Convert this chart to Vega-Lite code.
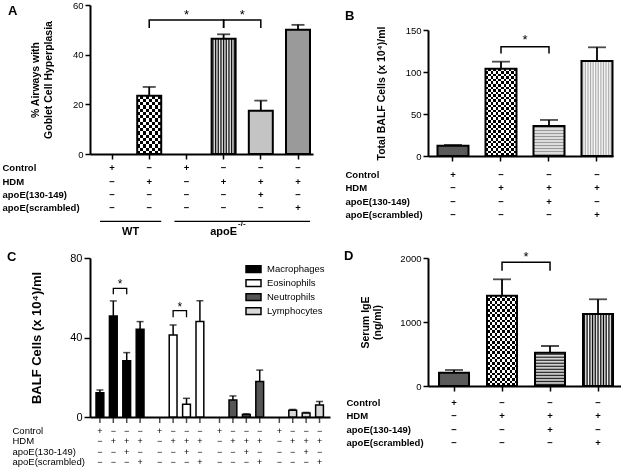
{
"$schema": "https://vega.github.io/schema/vega-lite/v6.json",
"background": "white",
"padding": {"left": 2, "top": 0, "right": 0, "bottom": 0},
"config": {
  "font": "Liberation Sans",
  "view": {"stroke": null},
  "axis": {"labelFont": "Liberation Sans", "titleFont": "Liberation Sans", "labelColor": "black", "titleColor": "black", "domainColor": "black", "tickColor": "black", "domainWidth": 2, "tickWidth": 1.5, "tickSize": 5, "labelPadding": 2, "grid": false},
  "text": {"font": "Liberation Sans"},
  "legend": {"labelFont": "Liberation Sans"},
  "title": {"font": "Liberation Sans"}
},
"resolve": {"scale": {"fill": "independent", "xOffset": "independent"}, "legend": {"fill": "independent"}},
"datasets": {
  "aBars": [
    {"cond": "WT HDM", "mean": 23.5, "upper": 27},
    {"cond": "KO HDM", "mean": 46.4, "upper": 48.2},
    {"cond": "KO HDM+pep", "mean": 17.4, "upper": 21.5},
    {"cond": "KO HDM+scr", "mean": 50, "upper": 52}
  ],
  "aTable": [
    {"cond": "WT Control", "Control": "+", "HDM": "−", "apoE(130-149)": "−", "apoE(scrambled)": "−"},
    {"cond": "WT HDM", "Control": "−", "HDM": "+", "apoE(130-149)": "−", "apoE(scrambled)": "−"},
    {"cond": "KO Control", "Control": "+", "HDM": "−", "apoE(130-149)": "−", "apoE(scrambled)": "−"},
    {"cond": "KO HDM", "Control": "−", "HDM": "+", "apoE(130-149)": "−", "apoE(scrambled)": "−"},
    {"cond": "KO HDM+pep", "Control": "−", "HDM": "+", "apoE(130-149)": "+", "apoE(scrambled)": "−"},
    {"cond": "KO HDM+scr", "Control": "−", "HDM": "+", "apoE(130-149)": "−", "apoE(scrambled)": "+"}
  ],
  "aGroups": [
    {"first": "WT Control", "last": "WT HDM", "row": "line"},
    {"first": "KO Control", "last": "KO HDM+scr", "row": "line"}
  ],
  "aLabels": [
    {"label": "WT", "cond": "WT Control", "row": "group"},
    {"label": "apoE", "cond": "KO HDM", "row": "group"},
    {"label": "-/-", "cond": "KO HDM", "row": "group"}
  ],
  "aBrackets": [
    {"id": "a1", "cond": "WT HDM", "v": 50.7, "o": 1},
    {"id": "a1", "cond": "WT HDM", "v": 54, "o": 2},
    {"id": "a1", "cond": "KO HDM", "v": 54, "o": 3},
    {"id": "a1", "cond": "KO HDM", "v": 50.7, "o": 4},
    {"id": "a2", "cond": "KO HDM", "v": 50.7, "o": 1},
    {"id": "a2", "cond": "KO HDM", "v": 54, "o": 2},
    {"id": "a2", "cond": "KO HDM+pep", "v": 54, "o": 3},
    {"id": "a2", "cond": "KO HDM+pep", "v": 50.7, "o": 4}
  ],
  "aStars": [
    {"k": "s1", "cond": "KO Control", "v": 54},
    {"k": "s2", "cond": "KO HDM", "v": 54}
  ],
  "table4": [
    {"cond": "Control", "Control": "+", "HDM": "−", "apoE(130-149)": "−", "apoE(scrambled)": "−", "cells": ["Macrophages", "Eosinophils", "Neutrophils", "Lymphocytes"]},
    {"cond": "HDM", "Control": "−", "HDM": "+", "apoE(130-149)": "−", "apoE(scrambled)": "−", "cells": ["Macrophages", "Eosinophils", "Neutrophils", "Lymphocytes"]},
    {"cond": "HDM+pep", "Control": "−", "HDM": "+", "apoE(130-149)": "+", "apoE(scrambled)": "−", "cells": ["Macrophages", "Eosinophils", "Neutrophils", "Lymphocytes"]},
    {"cond": "HDM+scr", "Control": "−", "HDM": "+", "apoE(130-149)": "−", "apoE(scrambled)": "+", "cells": ["Macrophages", "Eosinophils", "Neutrophils", "Lymphocytes"]}
  ],
  "bBars": [
    {"cond": "Control", "mean": 12.3, "upper": 13.2},
    {"cond": "HDM", "mean": 104, "upper": 112.3},
    {"cond": "HDM+pep", "mean": 35.7, "upper": 42.9},
    {"cond": "HDM+scr", "mean": 113, "upper": 129.4}
  ],
  "bBrackets": [
    {"id": "b1", "cond": "HDM", "v": 122, "o": 1},
    {"id": "b1", "cond": "HDM", "v": 130, "o": 2},
    {"id": "b1", "cond": "HDM+pep", "v": 130, "o": 3},
    {"id": "b1", "cond": "HDM+pep", "v": 122, "o": 4}
  ],
  "bStars": [{"cond": "HDM", "v": 130}],
  "cBars": [
    {"cell": "Macrophages", "cond": "Control", "mean": 12.2, "upper": 13.6},
    {"cell": "Macrophages", "cond": "HDM", "mean": 50.8, "upper": 58.4},
    {"cell": "Macrophages", "cond": "HDM+pep", "mean": 28.3, "upper": 32.4},
    {"cell": "Macrophages", "cond": "HDM+scr", "mean": 44.1, "upper": 48},
    {"cell": "Eosinophils", "cond": "HDM", "mean": 41.3, "upper": 46.3},
    {"cell": "Eosinophils", "cond": "HDM+pep", "mean": 6.4, "upper": 9.4},
    {"cell": "Eosinophils", "cond": "HDM+scr", "mean": 48, "upper": 58.5},
    {"cell": "Neutrophils", "cond": "HDM", "mean": 8.6, "upper": 10.6},
    {"cell": "Neutrophils", "cond": "HDM+pep", "mean": 1.3, "upper": 1.6},
    {"cell": "Neutrophils", "cond": "HDM+scr", "mean": 17.9, "upper": 23.6},
    {"cell": "Lymphocytes", "cond": "HDM", "mean": 3.4, "upper": 3.8},
    {"cell": "Lymphocytes", "cond": "HDM+pep", "mean": 2, "upper": 2.3},
    {"cell": "Lymphocytes", "cond": "HDM+scr", "mean": 6.1, "upper": 7.8}
  ],
  "cBrackets": [
    {"id": "m", "cell": "Macrophages", "cond": "HDM", "v": 61.7, "o": 1},
    {"id": "m", "cell": "Macrophages", "cond": "HDM", "v": 64.7, "o": 2},
    {"id": "m", "cell": "Macrophages", "cond": "HDM+pep", "v": 64.7, "o": 3},
    {"id": "m", "cell": "Macrophages", "cond": "HDM+pep", "v": 61.7, "o": 4},
    {"id": "e", "cell": "Eosinophils", "cond": "HDM", "v": 50.2, "o": 1},
    {"id": "e", "cell": "Eosinophils", "cond": "HDM", "v": 53.5, "o": 2},
    {"id": "e", "cell": "Eosinophils", "cond": "HDM+pep", "v": 53.5, "o": 3},
    {"id": "e", "cell": "Eosinophils", "cond": "HDM+pep", "v": 50.2, "o": 4}
  ],
  "cStars": [
    {"cell": "Macrophages", "cond": "HDM", "v": 64.7},
    {"cell": "Eosinophils", "cond": "HDM", "v": 53.5}
  ],
  "dBars": [
    {"cond": "Control", "mean": 208, "upper": 250},
    {"cond": "HDM", "mean": 1411, "upper": 1667},
    {"cond": "HDM+pep", "mean": 520, "upper": 625},
    {"cond": "HDM+scr", "mean": 1125, "upper": 1355}
  ],
  "dBrackets": [
    {"id": "d1", "cond": "HDM", "v": 1802, "o": 1},
    {"id": "d1", "cond": "HDM", "v": 1933, "o": 2},
    {"id": "d1", "cond": "HDM+pep", "v": 1933, "o": 3},
    {"id": "d1", "cond": "HDM+pep", "v": 1802, "o": 4}
  ],
  "dStars": [{"cond": "HDM", "v": 1933}]
},
"bounds": "flush",
"columns": 2,
"spacing": {"row": 102, "column": 98},
"concat": [
  {
    "width": 223, "height": 149,
    "title": {"text": "A", "anchor": "start", "frame": "group", "dx": -82, "dy": 17.5, "offset": 0, "fontSize": 13, "fontWeight": "bold", "color": "black"},
    "encoding": {"x": {"field": "cond", "type": "nominal", "scale": {"type": "band", "domain": ["WT Control", "WT HDM", "KO Control", "KO HDM", "KO HDM+pep", "KO HDM+scr"], "paddingInner": 0.355, "paddingOuter": 0.175, "align": 0.77}, "axis": {"labels": false, "title": null, "ticks": true, "tickSize": 5}}},
    "resolve": {"scale": {"y": "independent"}, "axis": {"y": "independent"}},
    "layer": [
      {"layer": [
        {"data": {"name": "aBars"}, "transform": [{"filter": "datum.cond === 'WT HDM'"}], "mark": {"type": "bar", "strokeWidth": 0,
          "fill": {"gradient": "linear", "x1": 0, "y1": 0, "x2": 1, "y2": 0, "stops": [
            {"offset": 0, "color": "black"}, {"offset": 0.125, "color": "black"}, {"offset": 0.125, "color": "white"}, {"offset": 0.25, "color": "white"}, {"offset": 0.25, "color": "black"}, {"offset": 0.375, "color": "black"}, {"offset": 0.375, "color": "white"}, {"offset": 0.5, "color": "white"}, {"offset": 0.5, "color": "black"}, {"offset": 0.625, "color": "black"}, {"offset": 0.625, "color": "white"}, {"offset": 0.75, "color": "white"}, {"offset": 0.75, "color": "black"}, {"offset": 0.875, "color": "black"}, {"offset": 0.875, "color": "white"}, {"offset": 1, "color": "white"}]}},
         "encoding": {"y": {"field": "mean", "type": "quantitative", "scale": {"domain": [0, 60], "nice": false}, "axis": {"values": [0, 10, 20, 30, 40, 50, 60], "title": ["% Airways with", "Goblet Cell Hyperplasia"], "titleFontSize": 10.5, "titleFontWeight": "bold", "titleLineHeight": 13, "titlePadding": 19, "labelFontSize": 9.5}}}},
        {"data": {"name": "aBars"}, "transform": [{"filter": "datum.cond === 'WT HDM'"}], "mark": {"type": "bar", "strokeWidth": 0, "blend": "difference",
          "fill": {"gradient": "linear", "x1": 0, "y1": 0, "x2": 0, "y2": 1, "stops": [
            {"offset": 0, "color": "white"}, {"offset": 0.0556, "color": "white"}, {"offset": 0.0556, "color": "black"}, {"offset": 0.1111, "color": "black"}, {"offset": 0.1111, "color": "white"}, {"offset": 0.1667, "color": "white"}, {"offset": 0.1667, "color": "black"}, {"offset": 0.2222, "color": "black"}, {"offset": 0.2222, "color": "white"}, {"offset": 0.2778, "color": "white"}, {"offset": 0.2778, "color": "black"}, {"offset": 0.3333, "color": "black"}, {"offset": 0.3333, "color": "white"}, {"offset": 0.3889, "color": "white"}, {"offset": 0.3889, "color": "black"}, {"offset": 0.4444, "color": "black"}, {"offset": 0.4444, "color": "white"}, {"offset": 0.5, "color": "white"}, {"offset": 0.5, "color": "black"}, {"offset": 0.5556, "color": "black"}, {"offset": 0.5556, "color": "white"}, {"offset": 0.6111, "color": "white"}, {"offset": 0.6111, "color": "black"}, {"offset": 0.6667, "color": "black"}, {"offset": 0.6667, "color": "white"}, {"offset": 0.7222, "color": "white"}, {"offset": 0.7222, "color": "black"}, {"offset": 0.7778, "color": "black"}, {"offset": 0.7778, "color": "white"}, {"offset": 0.8333, "color": "white"}, {"offset": 0.8333, "color": "black"}, {"offset": 0.8889, "color": "black"}, {"offset": 0.8889, "color": "white"}, {"offset": 0.9444, "color": "white"}, {"offset": 0.9444, "color": "black"}, {"offset": 1, "color": "black"}]}},
         "encoding": {"y": {"field": "mean", "type": "quantitative"}}},
        {"data": {"name": "aBars"}, "transform": [{"filter": "datum.cond === 'WT HDM'"}], "mark": {"type": "bar", "fill": "transparent", "stroke": "black", "strokeWidth": 2}, "encoding": {"y": {"field": "mean", "type": "quantitative"}}},
        {"data": {"name": "aBars"}, "transform": [{"filter": "datum.cond === 'KO HDM'"}], "mark": {"type": "bar", "stroke": "black", "strokeWidth": 2,
          "fill": {"gradient": "linear", "x1": 0, "y1": 0, "x2": 1, "y2": 0, "stops": [
            {"offset": 0, "color": "white"}, {"offset": 0.0556, "color": "black"}, {"offset": 0.1111, "color": "white"}, {"offset": 0.1667, "color": "black"}, {"offset": 0.2222, "color": "white"}, {"offset": 0.2778, "color": "black"}, {"offset": 0.3333, "color": "white"}, {"offset": 0.3889, "color": "black"}, {"offset": 0.4444, "color": "white"}, {"offset": 0.5, "color": "black"}, {"offset": 0.5556, "color": "white"}, {"offset": 0.6111, "color": "black"}, {"offset": 0.6667, "color": "white"}, {"offset": 0.7222, "color": "black"}, {"offset": 0.7778, "color": "white"}, {"offset": 0.8333, "color": "black"}, {"offset": 0.8889, "color": "white"}, {"offset": 0.9444, "color": "black"}, {"offset": 1, "color": "white"}]}},
         "encoding": {"y": {"field": "mean", "type": "quantitative"}}},
        {"data": {"name": "aBars"}, "transform": [{"filter": "datum.cond === 'KO HDM+pep'"}], "mark": {"type": "bar", "fill": "#c4c4c4", "stroke": "black", "strokeWidth": 2}, "encoding": {"y": {"field": "mean", "type": "quantitative"}}},
        {"data": {"name": "aBars"}, "transform": [{"filter": "datum.cond === 'KO HDM+scr'"}], "mark": {"type": "bar", "fill": "#9a9a9a", "stroke": "black", "strokeWidth": 2}, "encoding": {"y": {"field": "mean", "type": "quantitative"}}},
        {"data": {"name": "aBars"}, "mark": {"type": "rule", "strokeWidth": 1.8, "color": "black"}, "encoding": {"y": {"field": "mean", "type": "quantitative"}, "y2": {"field": "upper"}}},
        {"data": {"name": "aBars"}, "mark": {"type": "tick", "size": 13, "thickness": 1.8, "color": "black", "orient": "horizontal"}, "encoding": {"y": {"field": "upper", "type": "quantitative"}}},
        {"data": {"name": "aBrackets"}, "mark": {"type": "line", "strokeWidth": 1.5, "color": "black"}, "encoding": {"y": {"field": "v", "type": "quantitative"}, "detail": {"field": "id"}, "order": {"field": "o"}}},
        {"data": {"name": "aStars"}, "transform": [{"filter": "datum.k === 's1'"}], "mark": {"type": "text", "text": "*", "fontSize": 13, "baseline": "alphabetic", "dy": -1, "color": "black"}, "encoding": {"y": {"field": "v", "type": "quantitative"}}},
        {"data": {"name": "aStars"}, "transform": [{"filter": "datum.k === 's2'"}], "mark": {"type": "text", "text": "*", "fontSize": 13, "baseline": "alphabetic", "dy": -1, "dx": 18.6, "color": "black"}, "encoding": {"y": {"field": "v", "type": "quantitative"}}}
      ]},
      {"layer": [
        {"data": {"name": "aTable"}, "transform": [{"fold": ["Control", "HDM", "apoE(130-149)", "apoE(scrambled)"], "as": ["factor", "sym"]}],
         "mark": {"type": "text", "fontSize": 9.5, "fontWeight": "bold", "color": "black"},
         "encoding": {
           "y": {"field": "factor", "type": "nominal", "scale": {"type": "band", "domain": ["Control", "HDM", "apoE(130-149)", "apoE(scrambled)", "line", "group"], "range": [156.6, 236.4], "paddingInner": 0, "paddingOuter": 0},
                 "axis": {"orient": "left", "title": null, "domain": false, "ticks": false, "labelAlign": "left", "labelPadding": 88, "labelFontWeight": "bold", "labelFontSize": 9.5, "labelOverlap": false, "labelExpr": "datum.value == 'line' || datum.value == 'group' ? '' : datum.value"}},
           "text": {"field": "sym"}}},
        {"data": {"name": "aGroups"}, "mark": {"type": "rule", "strokeWidth": 1.2, "color": "black"},
         "encoding": {"x": {"field": "first", "type": "nominal", "bandPosition": 0}, "x2": {"field": "last", "bandPosition": 1}, "y": {"field": "row", "type": "nominal"}}},
        {"data": {"name": "aLabels"}, "transform": [{"filter": "datum.label === 'WT'"}], "mark": {"type": "text", "fontSize": 11, "fontWeight": "bold", "dx": 18.6, "dy": -2.5, "color": "black"},
         "encoding": {"y": {"field": "row", "type": "nominal"}, "text": {"field": "label"}}},
        {"data": {"name": "aLabels"}, "transform": [{"filter": "datum.label === 'apoE'"}], "mark": {"type": "text", "fontSize": 11, "fontWeight": "bold", "dy": -2.5, "color": "black"},
         "encoding": {"y": {"field": "row", "type": "nominal"}, "text": {"field": "label"}}},
        {"data": {"name": "aLabels"}, "transform": [{"filter": "datum.label === '-/-'"}], "mark": {"type": "text", "fontSize": 8, "fontWeight": "bold", "align": "left", "dx": 14.5, "dy": -10.5, "color": "black"},
         "encoding": {"y": {"field": "row", "type": "nominal"}, "text": {"field": "label"}}}
      ]}
    ]
  },
  {
    "width": 185, "height": 151,
    "title": {"text": "B", "anchor": "start", "frame": "group", "dx": -83, "dy": 17.75, "offset": 0, "fontSize": 13, "fontWeight": "bold", "color": "black"},
    "encoding": {"x": {"field": "cond", "type": "nominal", "scale": {"type": "band", "domain": ["Control", "HDM", "HDM+pep", "HDM+scr"], "paddingInner": 0.354, "paddingOuter": 0.104, "align": 0.95}, "axis": {"labels": false, "title": null, "ticks": true, "tickSize": 5}}},
    "resolve": {"scale": {"y": "independent"}, "axis": {"y": "independent"}},
    "layer": [
      {"layer": [
        {"data": {"name": "bBars"}, "transform": [{"filter": "datum.cond === 'Control'"}], "mark": {"type": "bar", "fill": "#5a5a5a", "stroke": "black", "strokeWidth": 2},
         "encoding": {"y": {"field": "mean", "type": "quantitative", "scale": {"domain": [0, 150], "nice": false, "range": [151, 25]}, "axis": {"values": [0, 50, 100, 150], "title": "Total BALF Cells (x 10⁴)/ml", "titleFontSize": 10.5, "titleFontWeight": "bold", "titlePadding": 19, "labelFontSize": 9.5}}}},
        {"data": {"name": "bBars"}, "transform": [{"filter": "datum.cond === 'HDM'"}], "mark": {"type": "bar", "strokeWidth": 0,
          "fill": {"gradient": "linear", "x1": 0, "y1": 0, "x2": 1, "y2": 0, "stops": [
            {"offset": 0, "color": "black"}, {"offset": 0.0833, "color": "black"}, {"offset": 0.0833, "color": "white"}, {"offset": 0.1667, "color": "white"}, {"offset": 0.1667, "color": "black"}, {"offset": 0.25, "color": "black"}, {"offset": 0.25, "color": "white"}, {"offset": 0.3333, "color": "white"}, {"offset": 0.3333, "color": "black"}, {"offset": 0.4167, "color": "black"}, {"offset": 0.4167, "color": "white"}, {"offset": 0.5, "color": "white"}, {"offset": 0.5, "color": "black"}, {"offset": 0.5833, "color": "black"}, {"offset": 0.5833, "color": "white"}, {"offset": 0.6667, "color": "white"}, {"offset": 0.6667, "color": "black"}, {"offset": 0.75, "color": "black"}, {"offset": 0.75, "color": "white"}, {"offset": 0.8333, "color": "white"}, {"offset": 0.8333, "color": "black"}, {"offset": 0.9167, "color": "black"}, {"offset": 0.9167, "color": "white"}, {"offset": 1, "color": "white"}]}},
         "encoding": {"y": {"field": "mean", "type": "quantitative"}}},
        {"data": {"name": "bBars"}, "transform": [{"filter": "datum.cond === 'HDM'"}], "mark": {"type": "bar", "strokeWidth": 0, "blend": "difference",
          "fill": {"gradient": "linear", "x1": 0, "y1": 0, "x2": 0, "y2": 1, "stops": [
            {"offset": 0, "color": "white"}, {"offset": 0.0294, "color": "white"}, {"offset": 0.0294, "color": "black"}, {"offset": 0.0588, "color": "black"}, {"offset": 0.0588, "color": "white"}, {"offset": 0.0882, "color": "white"}, {"offset": 0.0882, "color": "black"}, {"offset": 0.1176, "color": "black"}, {"offset": 0.1176, "color": "white"}, {"offset": 0.1471, "color": "white"}, {"offset": 0.1471, "color": "black"}, {"offset": 0.1765, "color": "black"}, {"offset": 0.1765, "color": "white"}, {"offset": 0.2059, "color": "white"}, {"offset": 0.2059, "color": "black"}, {"offset": 0.2353, "color": "black"}, {"offset": 0.2353, "color": "white"}, {"offset": 0.2647, "color": "white"}, {"offset": 0.2647, "color": "black"}, {"offset": 0.2941, "color": "black"}, {"offset": 0.2941, "color": "white"}, {"offset": 0.3235, "color": "white"}, {"offset": 0.3235, "color": "black"}, {"offset": 0.3529, "color": "black"}, {"offset": 0.3529, "color": "white"}, {"offset": 0.3824, "color": "white"}, {"offset": 0.3824, "color": "black"}, {"offset": 0.4118, "color": "black"}, {"offset": 0.4118, "color": "white"}, {"offset": 0.4412, "color": "white"}, {"offset": 0.4412, "color": "black"}, {"offset": 0.4706, "color": "black"}, {"offset": 0.4706, "color": "white"}, {"offset": 0.5, "color": "white"}, {"offset": 0.5, "color": "black"}, {"offset": 0.5294, "color": "black"}, {"offset": 0.5294, "color": "white"}, {"offset": 0.5588, "color": "white"}, {"offset": 0.5588, "color": "black"}, {"offset": 0.5882, "color": "black"}, {"offset": 0.5882, "color": "white"}, {"offset": 0.6176, "color": "white"}, {"offset": 0.6176, "color": "black"}, {"offset": 0.6471, "color": "black"}, {"offset": 0.6471, "color": "white"}, {"offset": 0.6765, "color": "white"}, {"offset": 0.6765, "color": "black"}, {"offset": 0.7059, "color": "black"}, {"offset": 0.7059, "color": "white"}, {"offset": 0.7353, "color": "white"}, {"offset": 0.7353, "color": "black"}, {"offset": 0.7647, "color": "black"}, {"offset": 0.7647, "color": "white"}, {"offset": 0.7941, "color": "white"}, {"offset": 0.7941, "color": "black"}, {"offset": 0.8235, "color": "black"}, {"offset": 0.8235, "color": "white"}, {"offset": 0.8529, "color": "white"}, {"offset": 0.8529, "color": "black"}, {"offset": 0.8824, "color": "black"}, {"offset": 0.8824, "color": "white"}, {"offset": 0.9118, "color": "white"}, {"offset": 0.9118, "color": "black"}, {"offset": 0.9412, "color": "black"}, {"offset": 0.9412, "color": "white"}, {"offset": 0.9706, "color": "white"}, {"offset": 0.9706, "color": "black"}, {"offset": 1, "color": "black"}]}},
         "encoding": {"y": {"field": "mean", "type": "quantitative"}}},
        {"data": {"name": "bBars"}, "transform": [{"filter": "datum.cond === 'HDM'"}], "mark": {"type": "bar", "fill": "transparent", "stroke": "black", "strokeWidth": 2}, "encoding": {"y": {"field": "mean", "type": "quantitative"}}},
        {"data": {"name": "bBars"}, "transform": [{"filter": "datum.cond === 'HDM+pep'"}], "mark": {"type": "bar", "stroke": "black", "strokeWidth": 2,
          "fill": {"gradient": "linear", "x1": 0, "y1": 0, "x2": 0, "y2": 1, "stops": [
            {"offset": 0, "color": "white"}, {"offset": 0.05, "color": "#999999"}, {"offset": 0.1, "color": "white"}, {"offset": 0.15, "color": "#999999"}, {"offset": 0.2, "color": "white"}, {"offset": 0.25, "color": "#999999"}, {"offset": 0.3, "color": "white"}, {"offset": 0.35, "color": "#999999"}, {"offset": 0.4, "color": "white"}, {"offset": 0.45, "color": "#999999"}, {"offset": 0.5, "color": "white"}, {"offset": 0.55, "color": "#999999"}, {"offset": 0.6, "color": "white"}, {"offset": 0.65, "color": "#999999"}, {"offset": 0.7, "color": "white"}, {"offset": 0.75, "color": "#999999"}, {"offset": 0.8, "color": "white"}, {"offset": 0.85, "color": "#999999"}, {"offset": 0.9, "color": "white"}, {"offset": 0.95, "color": "#999999"}, {"offset": 1, "color": "white"}]}},
         "encoding": {"y": {"field": "mean", "type": "quantitative"}}},
        {"data": {"name": "bBars"}, "transform": [{"filter": "datum.cond === 'HDM+scr'"}], "mark": {"type": "bar", "stroke": "black", "strokeWidth": 2,
          "fill": {"gradient": "linear", "x1": 0, "y1": 0, "x2": 1, "y2": 0, "stops": [
            {"offset": 0, "color": "white"}, {"offset": 0.0417, "color": "#aaaaaa"}, {"offset": 0.0833, "color": "white"}, {"offset": 0.125, "color": "#aaaaaa"}, {"offset": 0.1667, "color": "white"}, {"offset": 0.2083, "color": "#aaaaaa"}, {"offset": 0.25, "color": "white"}, {"offset": 0.2917, "color": "#aaaaaa"}, {"offset": 0.3333, "color": "white"}, {"offset": 0.375, "color": "#aaaaaa"}, {"offset": 0.4167, "color": "white"}, {"offset": 0.4583, "color": "#aaaaaa"}, {"offset": 0.5, "color": "white"}, {"offset": 0.5417, "color": "#aaaaaa"}, {"offset": 0.5833, "color": "white"}, {"offset": 0.625, "color": "#aaaaaa"}, {"offset": 0.6667, "color": "white"}, {"offset": 0.7083, "color": "#aaaaaa"}, {"offset": 0.75, "color": "white"}, {"offset": 0.7917, "color": "#aaaaaa"}, {"offset": 0.8333, "color": "white"}, {"offset": 0.875, "color": "#aaaaaa"}, {"offset": 0.9167, "color": "white"}, {"offset": 0.9583, "color": "#aaaaaa"}, {"offset": 1, "color": "white"}]}},
         "encoding": {"y": {"field": "mean", "type": "quantitative"}}},
        {"data": {"name": "bBars"}, "mark": {"type": "rule", "strokeWidth": 1.8, "color": "black"}, "encoding": {"y": {"field": "mean", "type": "quantitative"}, "y2": {"field": "upper"}}},
        {"data": {"name": "bBars"}, "mark": {"type": "tick", "size": 18, "thickness": 1.8, "color": "black", "orient": "horizontal"}, "encoding": {"y": {"field": "upper", "type": "quantitative"}}},
        {"data": {"name": "bBrackets"}, "mark": {"type": "line", "strokeWidth": 1.5, "color": "black"}, "encoding": {"y": {"field": "v", "type": "quantitative"}, "detail": {"field": "id"}, "order": {"field": "o"}}},
        {"data": {"name": "bStars"}, "mark": {"type": "text", "text": "*", "fontSize": 13, "baseline": "alphabetic", "dy": -3, "dx": 24, "color": "black"}, "encoding": {"y": {"field": "v", "type": "quantitative"}}}
      ]},
      {"layer": [
        {"data": {"name": "table4"}, "transform": [{"fold": ["Control", "HDM", "apoE(130-149)", "apoE(scrambled)"], "as": ["factor", "sym"]}],
         "mark": {"type": "text", "fontSize": 9.5, "fontWeight": "bold", "color": "black"},
         "encoding": {
           "y": {"field": "factor", "type": "nominal", "scale": {"type": "band", "domain": ["Control", "HDM", "apoE(130-149)", "apoE(scrambled)"], "range": [163.3, 216.7], "paddingInner": 0, "paddingOuter": 0},
                 "axis": {"orient": "left", "title": null, "domain": false, "ticks": false, "labelAlign": "left", "labelPadding": 83, "labelFontWeight": "bold", "labelFontSize": 9.5, "labelOverlap": false}},
           "text": {"field": "sym"}}}
      ]}
    ]
  },
  {
    "width": 240, "height": 159,
    "title": {"text": "C", "anchor": "start", "frame": "group", "dx": -83, "dy": 12.25, "offset": 0, "fontSize": 13, "fontWeight": "bold", "color": "black"},
    "encoding": {
      "x": {"field": "cell", "type": "nominal", "scale": {"type": "band", "domain": ["Macrophages", "Eosinophils", "Neutrophils", "Lymphocytes"], "paddingInner": 0.104, "paddingOuter": 0.0585, "align": 0.46}, "axis": {"labels": false, "ticks": false, "title": null}},
      "xOffset": {"field": "cond", "type": "nominal", "scale": {"type": "band", "domain": ["Control", "HDM", "HDM+pep", "HDM+scr"], "paddingInner": 0.418, "paddingOuter": 0.209}}
    },
    "resolve": {"scale": {"y": "independent"}, "axis": {"y": "independent"}},
    "layer": [
      {"layer": [
        {"data": {"name": "cBars"}, "mark": {"type": "bar", "stroke": "black", "strokeWidth": 1.5},
         "encoding": {
           "y": {"field": "mean", "type": "quantitative", "scale": {"domain": [0, 80], "nice": false}, "axis": {"values": [0, 20, 40, 60, 80], "title": "BALF Cells (x 10⁴)/ml", "titleFontSize": 13, "titleFontWeight": "bold", "titlePadding": 26, "labelFontSize": 11, "tickSize": 6}},
           "fill": {"field": "cell", "type": "nominal", "scale": {"domain": ["Macrophages", "Eosinophils", "Neutrophils", "Lymphocytes"], "range": ["black", "white", "#555555", "#d9d9d9"]},
                    "legend": {"title": null, "orient": "top-right", "offset": 5, "symbolType": "M-1,-0.45H1V0.45H-1Z", "symbolSize": 225, "symbolStrokeColor": "black", "symbolStrokeWidth": 1.5, "labelFontSize": 9.5, "labelColor": "black", "clipHeight": 12, "rowPadding": 2, "labelOffset": 5}}}},
        {"data": {"name": "cBars"}, "mark": {"type": "rule", "strokeWidth": 1.5, "color": "black"}, "encoding": {"y": {"field": "mean", "type": "quantitative"}, "y2": {"field": "upper"}}},
        {"data": {"name": "cBars"}, "mark": {"type": "tick", "size": 7, "thickness": 1.5, "color": "black", "orient": "horizontal"}, "encoding": {"y": {"field": "upper", "type": "quantitative"}}},
        {"data": {"name": "cBrackets"}, "mark": {"type": "line", "strokeWidth": 1.3, "color": "black"}, "encoding": {"y": {"field": "v", "type": "quantitative"}, "detail": {"field": "id"}, "order": {"field": "o"}}},
        {"data": {"name": "cStars"}, "mark": {"type": "text", "text": "*", "fontSize": 12, "baseline": "alphabetic", "dx": 6.7, "color": "black"}, "encoding": {"y": {"field": "v", "type": "quantitative"}}},
        {"data": {"name": "table4"}, "transform": [{"flatten": ["cells"], "as": ["cell"]}], "mark": {"type": "tick", "orient": "vertical", "size": 5, "thickness": 1.5, "color": "black", "yOffset": 3.5}, "encoding": {"y": {"datum": 0}}}
      ]},
      {"layer": [
        {"data": {"name": "table4"}, "transform": [{"flatten": ["cells"], "as": ["cell"]}, {"fold": ["Control", "HDM", "apoE(130-149)", "apoE(scrambled)"], "as": ["factor", "sym"]}],
         "mark": {"type": "text", "fontSize": 9, "color": "black"},
         "encoding": {
           "y": {"field": "factor", "type": "nominal", "scale": {"type": "band", "domain": ["Control", "HDM", "apoE(130-149)", "apoE(scrambled)"], "range": [167.25, 209.25], "paddingInner": 0, "paddingOuter": 0},
                 "axis": {"orient": "left", "title": null, "domain": false, "ticks": false, "labelAlign": "left", "labelPadding": 78, "labelFontSize": 9.5, "labelOverlap": false}},
           "text": {"field": "sym"}}}
      ]}
    ]
  },
  {
    "width": 193, "height": 128,
    "title": {"text": "D", "anchor": "start", "frame": "group", "dx": -84, "dy": 11.5, "offset": 0, "fontSize": 13, "fontWeight": "bold", "color": "black"},
    "encoding": {"x": {"field": "cond", "type": "nominal", "scale": {"type": "band", "domain": ["Control", "HDM", "HDM+pep", "HDM+scr"], "paddingInner": 0.375, "paddingOuter": 0.198, "align": 0.58}, "axis": {"labels": false, "title": null, "ticks": true, "tickSize": 5}}},
    "resolve": {"scale": {"y": "independent"}, "axis": {"y": "independent"}},
    "layer": [
      {"layer": [
        {"data": {"name": "dBars"}, "transform": [{"filter": "datum.cond === 'Control'"}], "mark": {"type": "bar", "fill": "#5a5a5a", "stroke": "black", "strokeWidth": 2},
         "encoding": {"y": {"field": "mean", "type": "quantitative", "scale": {"domain": [0, 2000], "nice": false}, "axis": {"values": [0, 500, 1000, 1500, 2000], "format": "d", "title": ["Serum IgE", "(ng/ml)"], "titleFontSize": 10.5, "titleFontWeight": "bold", "titleLineHeight": 12, "titlePadding": 17, "labelFontSize": 9.5}}}},
        {"data": {"name": "dBars"}, "transform": [{"filter": "datum.cond === 'HDM'"}], "mark": {"type": "bar", "strokeWidth": 0,
          "fill": {"gradient": "linear", "x1": 0, "y1": 0, "x2": 1, "y2": 0, "stops": [
            {"offset": 0, "color": "black"}, {"offset": 0.0833, "color": "black"}, {"offset": 0.0833, "color": "white"}, {"offset": 0.1667, "color": "white"}, {"offset": 0.1667, "color": "black"}, {"offset": 0.25, "color": "black"}, {"offset": 0.25, "color": "white"}, {"offset": 0.3333, "color": "white"}, {"offset": 0.3333, "color": "black"}, {"offset": 0.4167, "color": "black"}, {"offset": 0.4167, "color": "white"}, {"offset": 0.5, "color": "white"}, {"offset": 0.5, "color": "black"}, {"offset": 0.5833, "color": "black"}, {"offset": 0.5833, "color": "white"}, {"offset": 0.6667, "color": "white"}, {"offset": 0.6667, "color": "black"}, {"offset": 0.75, "color": "black"}, {"offset": 0.75, "color": "white"}, {"offset": 0.8333, "color": "white"}, {"offset": 0.8333, "color": "black"}, {"offset": 0.9167, "color": "black"}, {"offset": 0.9167, "color": "white"}, {"offset": 1, "color": "white"}]}},
         "encoding": {"y": {"field": "mean", "type": "quantitative"}}},
        {"data": {"name": "dBars"}, "transform": [{"filter": "datum.cond === 'HDM'"}], "mark": {"type": "bar", "strokeWidth": 0, "blend": "difference",
          "fill": {"gradient": "linear", "x1": 0, "y1": 0, "x2": 0, "y2": 1, "stops": [
            {"offset": 0, "color": "white"}, {"offset": 0.0294, "color": "white"}, {"offset": 0.0294, "color": "black"}, {"offset": 0.0588, "color": "black"}, {"offset": 0.0588, "color": "white"}, {"offset": 0.0882, "color": "white"}, {"offset": 0.0882, "color": "black"}, {"offset": 0.1176, "color": "black"}, {"offset": 0.1176, "color": "white"}, {"offset": 0.1471, "color": "white"}, {"offset": 0.1471, "color": "black"}, {"offset": 0.1765, "color": "black"}, {"offset": 0.1765, "color": "white"}, {"offset": 0.2059, "color": "white"}, {"offset": 0.2059, "color": "black"}, {"offset": 0.2353, "color": "black"}, {"offset": 0.2353, "color": "white"}, {"offset": 0.2647, "color": "white"}, {"offset": 0.2647, "color": "black"}, {"offset": 0.2941, "color": "black"}, {"offset": 0.2941, "color": "white"}, {"offset": 0.3235, "color": "white"}, {"offset": 0.3235, "color": "black"}, {"offset": 0.3529, "color": "black"}, {"offset": 0.3529, "color": "white"}, {"offset": 0.3824, "color": "white"}, {"offset": 0.3824, "color": "black"}, {"offset": 0.4118, "color": "black"}, {"offset": 0.4118, "color": "white"}, {"offset": 0.4412, "color": "white"}, {"offset": 0.4412, "color": "black"}, {"offset": 0.4706, "color": "black"}, {"offset": 0.4706, "color": "white"}, {"offset": 0.5, "color": "white"}, {"offset": 0.5, "color": "black"}, {"offset": 0.5294, "color": "black"}, {"offset": 0.5294, "color": "white"}, {"offset": 0.5588, "color": "white"}, {"offset": 0.5588, "color": "black"}, {"offset": 0.5882, "color": "black"}, {"offset": 0.5882, "color": "white"}, {"offset": 0.6176, "color": "white"}, {"offset": 0.6176, "color": "black"}, {"offset": 0.6471, "color": "black"}, {"offset": 0.6471, "color": "white"}, {"offset": 0.6765, "color": "white"}, {"offset": 0.6765, "color": "black"}, {"offset": 0.7059, "color": "black"}, {"offset": 0.7059, "color": "white"}, {"offset": 0.7353, "color": "white"}, {"offset": 0.7353, "color": "black"}, {"offset": 0.7647, "color": "black"}, {"offset": 0.7647, "color": "white"}, {"offset": 0.7941, "color": "white"}, {"offset": 0.7941, "color": "black"}, {"offset": 0.8235, "color": "black"}, {"offset": 0.8235, "color": "white"}, {"offset": 0.8529, "color": "white"}, {"offset": 0.8529, "color": "black"}, {"offset": 0.8824, "color": "black"}, {"offset": 0.8824, "color": "white"}, {"offset": 0.9118, "color": "white"}, {"offset": 0.9118, "color": "black"}, {"offset": 0.9412, "color": "black"}, {"offset": 0.9412, "color": "white"}, {"offset": 0.9706, "color": "white"}, {"offset": 0.9706, "color": "black"}, {"offset": 1, "color": "black"}]}},
         "encoding": {"y": {"field": "mean", "type": "quantitative"}}},
        {"data": {"name": "dBars"}, "transform": [{"filter": "datum.cond === 'HDM'"}], "mark": {"type": "bar", "fill": "transparent", "stroke": "black", "strokeWidth": 2}, "encoding": {"y": {"field": "mean", "type": "quantitative"}}},
        {"data": {"name": "dBars"}, "transform": [{"filter": "datum.cond === 'HDM+pep'"}], "mark": {"type": "bar", "stroke": "black", "strokeWidth": 2,
          "fill": {"gradient": "linear", "x1": 0, "y1": 0, "x2": 0, "y2": 1, "stops": [
            {"offset": 0, "color": "white"}, {"offset": 0.0455, "color": "#222222"}, {"offset": 0.0909, "color": "white"}, {"offset": 0.1364, "color": "#222222"}, {"offset": 0.1818, "color": "white"}, {"offset": 0.2273, "color": "#222222"}, {"offset": 0.2727, "color": "white"}, {"offset": 0.3182, "color": "#222222"}, {"offset": 0.3636, "color": "white"}, {"offset": 0.4091, "color": "#222222"}, {"offset": 0.4545, "color": "white"}, {"offset": 0.5, "color": "#222222"}, {"offset": 0.5455, "color": "white"}, {"offset": 0.5909, "color": "#222222"}, {"offset": 0.6364, "color": "white"}, {"offset": 0.6818, "color": "#222222"}, {"offset": 0.7273, "color": "white"}, {"offset": 0.7727, "color": "#222222"}, {"offset": 0.8182, "color": "white"}, {"offset": 0.8636, "color": "#222222"}, {"offset": 0.9091, "color": "white"}, {"offset": 0.9545, "color": "#222222"}, {"offset": 1, "color": "white"}]}},
         "encoding": {"y": {"field": "mean", "type": "quantitative"}}},
        {"data": {"name": "dBars"}, "transform": [{"filter": "datum.cond === 'HDM+scr'"}], "mark": {"type": "bar", "stroke": "black", "strokeWidth": 2,
          "fill": {"gradient": "linear", "x1": 0, "y1": 0, "x2": 1, "y2": 0, "stops": [
            {"offset": 0, "color": "white"}, {"offset": 0.0455, "color": "black"}, {"offset": 0.0909, "color": "white"}, {"offset": 0.1364, "color": "black"}, {"offset": 0.1818, "color": "white"}, {"offset": 0.2273, "color": "black"}, {"offset": 0.2727, "color": "white"}, {"offset": 0.3182, "color": "black"}, {"offset": 0.3636, "color": "white"}, {"offset": 0.4091, "color": "black"}, {"offset": 0.4545, "color": "white"}, {"offset": 0.5, "color": "black"}, {"offset": 0.5455, "color": "white"}, {"offset": 0.5909, "color": "black"}, {"offset": 0.6364, "color": "white"}, {"offset": 0.6818, "color": "black"}, {"offset": 0.7273, "color": "white"}, {"offset": 0.7727, "color": "black"}, {"offset": 0.8182, "color": "white"}, {"offset": 0.8636, "color": "black"}, {"offset": 0.9091, "color": "white"}, {"offset": 0.9545, "color": "black"}, {"offset": 1, "color": "white"}]}},
         "encoding": {"y": {"field": "mean", "type": "quantitative"}}},
        {"data": {"name": "dBars"}, "mark": {"type": "rule", "strokeWidth": 1.8, "color": "black"}, "encoding": {"y": {"field": "mean", "type": "quantitative"}, "y2": {"field": "upper"}}},
        {"data": {"name": "dBars"}, "mark": {"type": "tick", "size": 18, "thickness": 1.8, "color": "black", "orient": "horizontal"}, "encoding": {"y": {"field": "upper", "type": "quantitative"}}},
        {"data": {"name": "dBrackets"}, "mark": {"type": "line", "strokeWidth": 1.5, "color": "black"}, "encoding": {"y": {"field": "v", "type": "quantitative"}, "detail": {"field": "id"}, "order": {"field": "o"}}},
        {"data": {"name": "dStars"}, "mark": {"type": "text", "text": "*", "fontSize": 13, "baseline": "alphabetic", "dy": -1, "dx": 24, "color": "black"}, "encoding": {"y": {"field": "v", "type": "quantitative"}}}
      ]},
      {"layer": [
        {"data": {"name": "table4"}, "transform": [{"fold": ["Control", "HDM", "apoE(130-149)", "apoE(scrambled)"], "as": ["factor", "sym"]}],
         "mark": {"type": "text", "fontSize": 9.5, "fontWeight": "bold", "color": "black"},
         "encoding": {
           "y": {"field": "factor", "type": "nominal", "scale": {"type": "band", "domain": ["Control", "HDM", "apoE(130-149)", "apoE(scrambled)"], "range": [138.3, 191.7], "paddingInner": 0, "paddingOuter": 0},
                 "axis": {"orient": "left", "title": null, "domain": false, "ticks": false, "labelAlign": "left", "labelPadding": 82, "labelFontWeight": "bold", "labelFontSize": 9.5, "labelOverlap": false}},
           "text": {"field": "sym"}}}
      ]}
    ]
  }
]
}
